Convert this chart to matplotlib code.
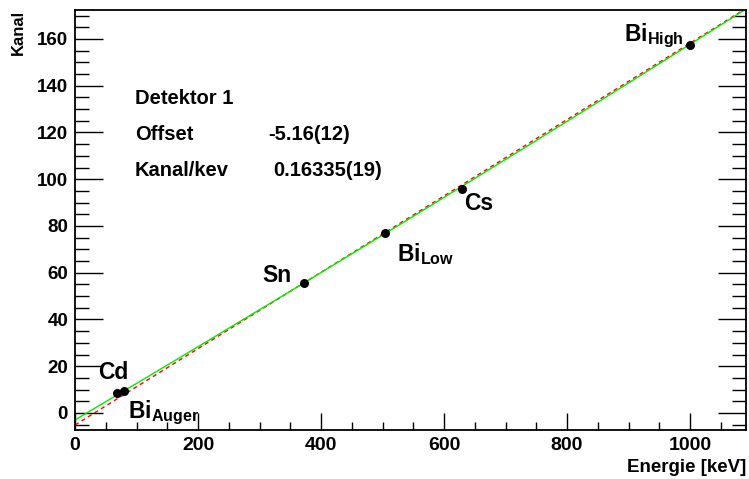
import numpy as np
import matplotlib
matplotlib.use('Agg')
import matplotlib.pyplot as plt
from matplotlib.ticker import MultipleLocator

# Messpunkte (Energie in keV, Kanal)
labels = ['Cd', 'Bi$_{\\mathregular{Auger}}$', 'Sn', 'Bi$_{\\mathregular{Low}}$', 'Cs', 'Bi$_{\\mathregular{High}}$']
energie = [69, 79, 372, 504, 629, 1000]
kanal = [8.4, 9.3, 55.4, 77.2, 95.8, 157.6]

# Fitparameter: linearer Fit (rot) und pol2 (gruen)
offset_fit = -5.16
steigung_fit = 0.16335
pol2_gruen = [-3.0, 0.15565, 5.05e-6]

plt.rcParams['font.family'] = ['Liberation Sans', 'DejaVu Sans']
plt.rcParams['font.weight'] = 'bold'
plt.rcParams['mathtext.fontset'] = 'custom'
plt.rcParams['mathtext.rm'] = 'Liberation Sans:bold'
plt.rcParams['mathtext.default'] = 'regular'

fig = plt.figure(figsize=(7.49, 4.79), dpi=100)
ax = fig.add_axes([75 / 749, 49 / 479, 671 / 749, 420 / 479])

xlim = (0, 1091)
ylim = (-7.3, 172.4)
xx = np.linspace(xlim[0], xlim[1], 300)
ax.plot(xx, offset_fit + steigung_fit * xx, color='red', ls=(0, (3, 2.5)), lw=1)
ax.plot(xx, np.polyval(pol2_gruen[::-1], xx), color='#00ee00', lw=1)
ax.scatter(energie, kanal, s=30, color='black', zorder=5)

# Beschriftungen der Punkte (Versatz in Pixeln, Grundlinie)
versatz = [(-19, 14), (4, -27), (-41, 1), (12, -29), (2, -21), (-66, 3)]
for e, k, lab, (dx, dy) in zip(energie, kanal, labels, versatz):
    ax.annotate(lab, (e, k), xytext=(dx, dy), textcoords='offset pixels',
                fontsize=16.5, fontweight='bold', ha='left', va='baseline')

box = dict(transform=ax.transAxes, fontsize=14.5, fontweight='bold', va='baseline')
ax.text(0.0894, 0.776, 'Detektor 1', **box)
ax.text(0.0894, 0.690, 'Offset', **box)
ax.text(0.2876, 0.690, '-5.16(12)', **box)
ax.text(0.0894, 0.605, 'Kanal/kev', **box)
ax.text(0.295, 0.605, '0.16335(19)', **box)

ax.set_xlim(xlim)
ax.set_ylim(ylim)
ax.xaxis.set_major_locator(MultipleLocator(200))
ax.xaxis.set_minor_locator(MultipleLocator(50))
ax.yaxis.set_major_locator(MultipleLocator(20))
ax.yaxis.set_minor_locator(MultipleLocator(5))
ax.tick_params(axis='x', which='major', direction='in', length=12, width=1, labelsize=14, pad=5)
ax.tick_params(axis='x', which='minor', direction='in', length=6, width=1)
ax.tick_params(axis='y', which='major', direction='in', length=20, width=1, labelsize=13.5, right=True, pad=5)
ax.tick_params(axis='y', which='minor', direction='in', length=10, width=1, right=True)
for lab in ax.get_xticklabels() + ax.get_yticklabels():
    lab.set_fontweight('bold')
for sp in ax.spines.values():
    sp.set_linewidth(1.3)

ax.set_xlabel('Energie [keV]', fontsize=13.5, fontweight='bold', loc='right')
ax.xaxis.set_label_coords(1.0, -0.068)
ax.set_ylabel('Kanal', fontsize=12, fontweight='bold', loc='top')
ax.yaxis.set_label_coords(-0.073, 1.0)

fig.savefig('out.png', dpi=100)
